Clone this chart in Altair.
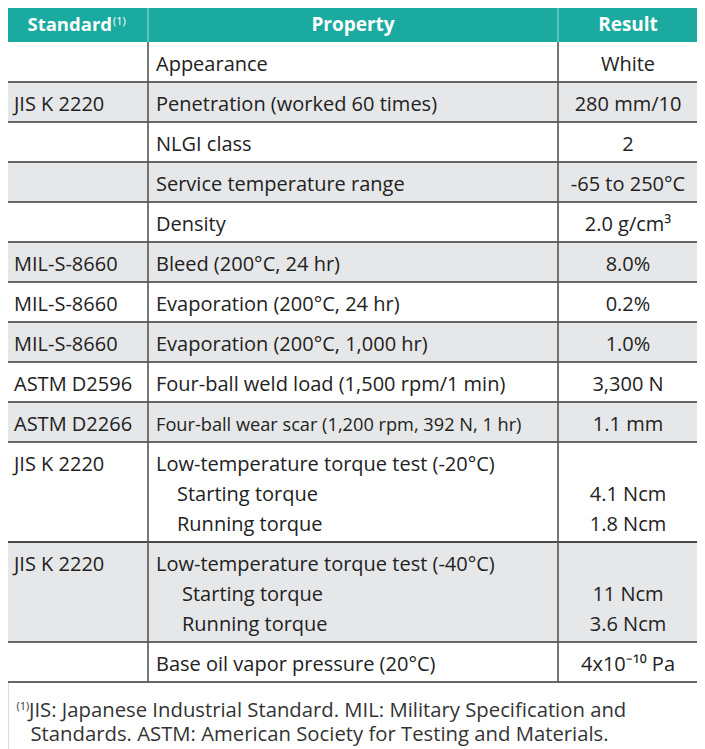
import altair as alt
import pandas as pd

# ---------------- data ----------------
header = ["Standard", "Property", "Result"]
header_note = "(1)"
standards = ["", "JIS K 2220", "", "", "", "MIL-S-8660", "MIL-S-8660", "MIL-S-8660",
             "ASTM D2596", "ASTM D2266", "JIS K 2220", "JIS K 2220", ""]
properties = ["Appearance", "Penetration (worked 60 times)", "NLGI class",
              "Service temperature range", "Density", "Bleed (200\u00b0C, 24 hr)",
              "Evaporation (200\u00b0C, 24 hr)", "Evaporation (200\u00b0C, 1,000 hr)",
              "Four-ball weld load (1,500 rpm/1 min)",
              "Four-ball wear scar (1,200 rpm, 392 N, 1 hr)",
              "Low-temperature torque test (-20\u00b0C)",
              "Low-temperature torque test (-40\u00b0C)",
              "Base oil vapor pressure (20\u00b0C)"]
results = ["White", "280 mm/10", "2", "-65 to 250\u00b0C", "2.0 g/cm\u00b3", "8.0%", "0.2%",
           "1.0%", "3,300 N", "1.1 mm", "", "", "4x10\u207b\u00b9\u2070 Pa"]
sub_items = {10: ["Starting torque", "Running torque"],
             11: ["Starting torque", "Running torque"]}
sub_results = {10: ["4.1 Ncm", "1.8 Ncm"],
               11: ["11 Ncm", "3.6 Ncm"]}
shaded = [False, True, False, True, False, True, False, True, False, True, False, True, False]
footnote = ["JIS: Japanese Industrial Standard. MIL: Military Specification and",
            "Standards. ASTM: American Society for Testing and Materials."]

# ---------------- layout constants ----------------
LEFT, RIGHT, COL1, COL2 = 5, 698, 148, 558
TOP, HEAD_H, PAD, LINE, BASE = 5, 37, 10, 30, 28.5
SUB_INDENT = {10: 177, 11: 182}
TEAL = "#1aaaa0"
SHADE = "#e6e7e8"
INK = "#222222"
FONT = "Open Sans"
FS = 20
NARROW = {9: 18.2}
W, H = 689, 741

xs = alt.Scale(domain=[8, 8 + W])
ys = alt.Scale(domain=[8, 8 + H], reverse=True)

# ---------------- build tables ----------------
rows, hlines, txt_left, txt_center = [], [], [], []
y = TOP + HEAD_H
for i, prop in enumerate(properties):
    n = 1 + len(sub_items.get(i, []))
    h = PAD + LINE * n
    rows.append({"x": LEFT, "x2": RIGHT, "y": y, "y2": y + h,
                 "fill": SHADE if shaded[i] else "#ffffff"})
    b = y + BASE
    if standards[i]:
        txt_left.append({"x": 14, "y": b, "text": standards[i], "size": FS, "color": INK})
    txt_left.append({"x": 156, "y": b, "text": prop, "size": NARROW.get(i, FS), "color": INK})
    if results[i]:
        txt_center.append({"x": (COL2 + RIGHT) / 2, "y": b, "text": results[i], "size": FS, "color": INK})
    for k, (s, r) in enumerate(zip(sub_items.get(i, []), sub_results.get(i, []))):
        bb = b + LINE * (k + 1)
        txt_left.append({"x": SUB_INDENT[i], "y": bb, "text": s, "size": FS, "color": INK})
        txt_center.append({"x": (COL2 + RIGHT) / 2, "y": bb, "text": r, "size": FS, "color": INK})
    y += h
    hlines.append({"x": LEFT, "x2": RIGHT, "y": y,
                   "color": "#111111" if i == 10 else "#666666",
                   "w": 1.4 if i == 10 else 2})
table_bottom = y

vlines = pd.DataFrame([{"x": c, "y": TOP + HEAD_H, "y2": table_bottom} for c in (COL1, COL2)])
head_div = pd.DataFrame([{"x": c, "y": TOP, "y2": TOP + HEAD_H} for c in (COL1, COL2)])
head_rect = pd.DataFrame([{"x": LEFT, "x2": RIGHT, "y": TOP, "y2": TOP + HEAD_H}])

head_center = pd.DataFrame([
    {"x": (COL1 + COL2) / 2, "y": 30.5, "text": header[1], "size": 19, "color": "#ffffff"},
    {"x": (COL2 + RIGHT) / 2, "y": 30.5, "text": header[2], "size": 19, "color": "#ffffff"},
])
head_right = pd.DataFrame([
    {"x": 112, "y": 30.5, "text": header[0], "size": 18.5, "color": "#ffffff"},
])

fy = table_bottom + 35
txt_left.append({"x": 29, "y": fy, "text": footnote[0], "size": 20.3, "color": "#333333"})
txt_left.append({"x": 30.5, "y": fy + 23.5, "text": footnote[1], "size": 20.3, "color": "#333333"})
sups = pd.DataFrame([
    {"x": 113, "y": 25, "text": header_note, "size": 11, "color": "#ffffff"},
    {"x": 16.5, "y": fy - 7, "text": header_note, "size": 11, "color": "#333333"},
])

rows = pd.DataFrame(rows)
hlines = pd.DataFrame(hlines)
txt_left = pd.DataFrame(txt_left)
txt_center = pd.DataFrame(txt_center)

X = lambda f="x": alt.X(f"{f}:Q", scale=xs, axis=None)
Y = lambda f="y": alt.Y(f"{f}:Q", scale=ys, axis=None)

row_layer = alt.Chart(rows).mark_rect(strokeWidth=0).encode(
    x=X(), x2="x2:Q", y=Y(), y2="y2:Q", fill=alt.Fill("fill:N", scale=None))
head_layer = alt.Chart(head_rect).mark_rect(color=TEAL).encode(
    x=X(), x2="x2:Q", y=Y(), y2="y2:Q")
hdiv_layer = alt.Chart(head_div).mark_rule(color="#9adcd6", strokeWidth=1).encode(
    x=X(), y=Y(), y2="y2:Q")
h_layer = alt.Chart(hlines).mark_rule().encode(
    x=X(), x2="x2:Q", y=Y(), color=alt.Color("color:N", scale=None),
    strokeWidth=alt.StrokeWidth("w:Q", scale=None))
v_layer = alt.Chart(vlines).mark_rule(color="#555555", strokeWidth=1.6).encode(
    x=X(), y=Y(), y2="y2:Q")


def text_layer(df, align, weight="normal"):
    return alt.Chart(df).mark_text(align=align, baseline="alphabetic", font=FONT,
                                   fontWeight=weight).encode(
        x=X(), y=Y(), text="text:N",
        size=alt.Size("size:Q", scale=None),
        color=alt.Color("color:N", scale=None))


chart = alt.layer(
    row_layer, head_layer, hdiv_layer, h_layer, v_layer,
    text_layer(txt_left, "left"),
    text_layer(txt_center, "center"),
    text_layer(head_center, "center", "bold"),
    text_layer(head_right, "right", "bold"),
    text_layer(sups, "left"),
).properties(
    width=W, height=H, padding=0, autosize=alt.AutoSizeParams(type="none")
).configure_view(stroke=None).configure(background="#ffffff")

chart.save("out.html", embed_options={"renderer": "svg", "actions": False})
